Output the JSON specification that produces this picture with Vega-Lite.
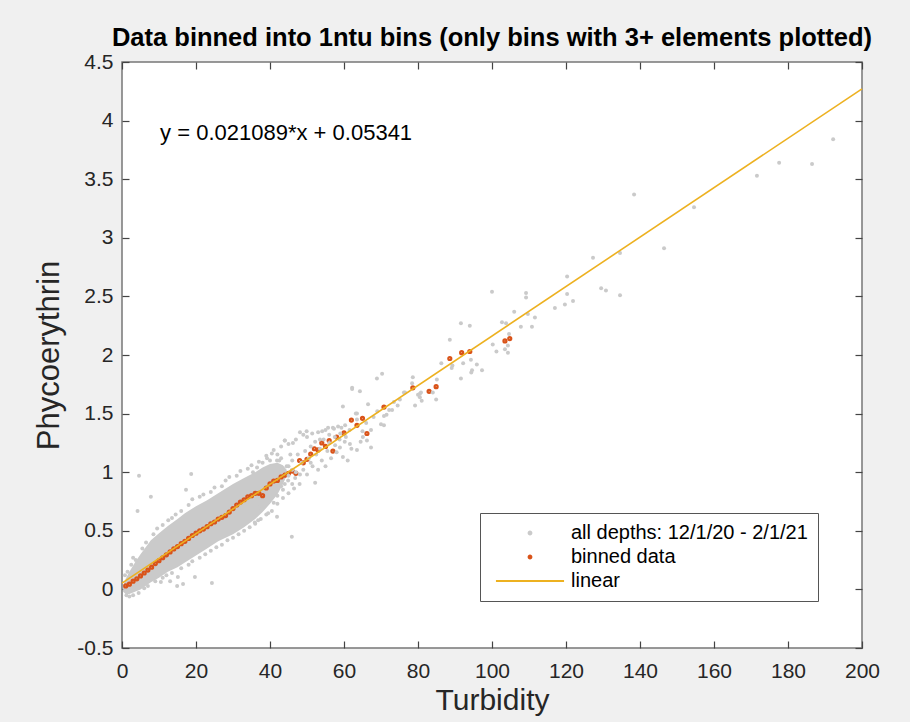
{
  "$schema": "https://vega.github.io/schema/vega-lite/v6.json",
  "width": 740,
  "height": 586,
  "autosize": {"type": "none"},
  "padding": {"left": 122, "top": 62, "right": 48, "bottom": 74},
  "background": "#f0f0f0",
  "title": {
    "text": "Data binned into 1ntu bins (only bins with 3+ elements plotted)",
    "fontSize": 25.5, "fontWeight": "bold", "font": "Liberation Sans", "color": "#000000",
    "anchor": "middle", "baseline": "alphabetic", "offset": -20
  },
  "config": {
    "font": "Liberation Sans",
    "view": {"fill": "white", "stroke": "#777777", "strokeWidth": 1.5}
  },
  "datasets": {
    "band": [
      {"x": 0.3, "lo": -0.02, "hi": 0.03},
      {"x": 1, "lo": -0.04, "hi": 0.09},
      {"x": 2, "lo": -0.04, "hi": 0.15},
      {"x": 3.5, "lo": -0.02, "hi": 0.23},
      {"x": 5, "lo": 0.0, "hi": 0.3},
      {"x": 7.8, "lo": 0.06, "hi": 0.42},
      {"x": 10, "lo": 0.1, "hi": 0.48},
      {"x": 12.4, "lo": 0.15, "hi": 0.54},
      {"x": 15, "lo": 0.19, "hi": 0.6},
      {"x": 17, "lo": 0.23, "hi": 0.65},
      {"x": 20, "lo": 0.29, "hi": 0.71},
      {"x": 23, "lo": 0.35, "hi": 0.76},
      {"x": 26, "lo": 0.41, "hi": 0.82},
      {"x": 30, "lo": 0.47, "hi": 0.9},
      {"x": 33, "lo": 0.53, "hi": 0.95},
      {"x": 36, "lo": 0.6, "hi": 1.0},
      {"x": 38, "lo": 0.66, "hi": 1.04},
      {"x": 40, "lo": 0.73, "hi": 1.07},
      {"x": 42, "lo": 0.81, "hi": 1.08},
      {"x": 43.5, "lo": 0.9, "hi": 1.06},
      {"x": 44.5, "lo": 0.97, "hi": 1.02}
    ],
    "gray": [
      {"s":"a","x":4.6,"y":0.97},{"s":"a","x":7.8,"y":0.79},{"s":"a","x":4.2,"y":0.67},{"s":"a","x":18.7,"y":0.985},
      {"s":"a","x":17.3,"y":0.85},{"s":"a","x":3.7,"y":0.25},{"s":"a","x":10.5,"y":0.063},{"s":"a","x":13,"y":0.07},
      {"s":"a","x":15.1,"y":0.106},{"s":"a","x":14.9,"y":0.03},{"s":"a","x":16.5,"y":0.046},{"s":"a","x":19.7,"y":0.106},
      {"s":"a","x":24.3,"y":0.055},{"s":"a","x":45.9,"y":0.45},{"s":"a","x":1.2,"y":-0.05},{"s":"a","x":0.8,"y":0.12},
      {"s":"a","x":1.5,"y":0.15},{"s":"a","x":2.5,"y":0.21},{"s":"a","x":3,"y":0.27},{"s":"a","x":5.5,"y":0.35},
      {"s":"a","x":6.5,"y":0.4},{"s":"a","x":8.5,"y":0.47},{"s":"a","x":9.5,"y":0.52},{"s":"a","x":11,"y":0.55},
      {"s":"a","x":12.5,"y":0.59},{"s":"a","x":13.5,"y":0.61},{"s":"a","x":14.5,"y":0.64},{"s":"a","x":16,"y":0.67},
      {"s":"a","x":18,"y":0.72},{"s":"a","x":19,"y":0.77},{"s":"a","x":21,"y":0.79},{"s":"a","x":22,"y":0.81},
      {"s":"a","x":24,"y":0.83},{"s":"a","x":25,"y":0.87},{"s":"a","x":27,"y":0.88},{"s":"a","x":28,"y":0.93},
      {"s":"a","x":29,"y":0.96},{"s":"a","x":31,"y":0.97},{"s":"a","x":32,"y":1.01},{"s":"a","x":34,"y":1.03},
      {"s":"a","x":35,"y":1.06},{"s":"a","x":37,"y":1.09},{"s":"a","x":39,"y":1.14},{"s":"a","x":41,"y":1.19},
      {"s":"a","x":43,"y":1.22},{"s":"a","x":44,"y":1.27},{"s":"a","x":45,"y":1.24},{"s":"a","x":47,"y":1.28},
      {"s":"a","x":49,"y":1.32},
      {"s":"a","x":2,"y":-0.06},{"s":"a","x":3,"y":-0.05},{"s":"a","x":4.5,"y":-0.03},{"s":"a","x":6,"y":0.01},
      {"s":"a","x":7,"y":0.03},{"s":"a","x":9,"y":0.07},{"s":"a","x":11,"y":0.1},{"s":"a","x":12,"y":0.12},
      {"s":"a","x":13.5,"y":0.14},{"s":"a","x":16,"y":0.18},{"s":"a","x":18,"y":0.21},{"s":"a","x":19,"y":0.24},
      {"s":"a","x":21,"y":0.27},{"s":"a","x":22.5,"y":0.3},{"s":"a","x":24,"y":0.33},{"s":"a","x":25.5,"y":0.36},
      {"s":"a","x":27,"y":0.38},{"s":"a","x":28.5,"y":0.42},{"s":"a","x":30,"y":0.44},{"s":"a","x":31.5,"y":0.47},
      {"s":"a","x":33,"y":0.5},{"s":"a","x":34.5,"y":0.53},{"s":"a","x":36,"y":0.56},{"s":"a","x":37.5,"y":0.6},
      {"s":"a","x":39,"y":0.64},{"s":"a","x":40.5,"y":0.67},{"s":"a","x":42,"y":0.73},{"s":"a","x":43.5,"y":0.78},
      {"s":"a","x":45,"y":0.82},{"s":"a","x":46.5,"y":0.86},{"s":"a","x":48,"y":0.9},
      {"s":"a","x":62.2,"y":1.72},{"s":"a","x":59.7,"y":1.56},{"s":"a","x":63.5,"y":1.5},{"s":"a","x":48.1,"y":1.34},
      {"s":"a","x":53,"y":1.34},{"s":"a","x":55.7,"y":1.38},{"s":"a","x":57,"y":1.38},{"s":"a","x":44,"y":1.27},
      {"s":"a","x":46.2,"y":1.25},{"s":"a","x":50,"y":1.3},{"s":"a","x":52.2,"y":1.26},{"s":"a","x":53.5,"y":1.28},
      {"s":"a","x":40.5,"y":1.16},{"s":"a","x":39.2,"y":1.12},{"s":"a","x":41.9,"y":1.1},{"s":"a","x":35.4,"y":1.0},
      {"s":"a","x":59.7,"y":1.13},{"s":"a","x":61,"y":1.1},{"s":"a","x":63.5,"y":1.19},{"s":"a","x":57.6,"y":1.23},
      {"s":"a","x":58.9,"y":1.21},{"s":"a","x":52.2,"y":0.91},{"s":"a","x":49,"y":1.02},{"s":"a","x":48.1,"y":0.98},
      {"s":"a","x":44.9,"y":0.93},{"s":"a","x":46.8,"y":0.95},{"s":"a","x":41.4,"y":0.83},{"s":"a","x":43.5,"y":0.85},
      {"s":"a","x":39.5,"y":0.79},{"s":"a","x":36.8,"y":0.7},{"s":"a","x":39.5,"y":0.65},{"s":"a","x":41.9,"y":0.62},
      {"s":"a","x":36.8,"y":0.59},{"s":"a","x":35.9,"y":0.57},
      {"s":"a","x":45,"y":1.05},{"s":"a","x":46,"y":1.1},{"s":"a","x":47,"y":1.0},{"s":"a","x":47.5,"y":1.15},
      {"s":"a","x":48.5,"y":1.08},{"s":"a","x":49.5,"y":1.18},{"s":"a","x":50.5,"y":1.12},{"s":"a","x":51,"y":1.22},
      {"s":"a","x":51.5,"y":1.05},{"s":"a","x":52.5,"y":1.15},{"s":"a","x":53.5,"y":1.2},{"s":"a","x":54,"y":1.1},
      {"s":"a","x":54.5,"y":1.28},{"s":"a","x":55.5,"y":1.18},{"s":"a","x":56,"y":1.25},{"s":"a","x":56.5,"y":1.12},
      {"s":"a","x":57.5,"y":1.3},{"s":"a","x":58,"y":1.17},{"s":"a","x":59,"y":1.33},{"s":"a","x":60.5,"y":1.3},
      {"s":"a","x":61.5,"y":1.36},{"s":"a","x":62,"y":1.2},{"s":"a","x":50,"y":0.98},{"s":"a","x":51,"y":1.08},
      {"s":"a","x":53,"y":1.02},{"s":"a","x":55,"y":1.05},{"s":"a","x":45.5,"y":1.15},{"s":"a","x":44.5,"y":1.05},
      {"s":"a","x":43,"y":1.0},{"s":"a","x":42.5,"y":1.1},{"s":"a","x":46,"y":0.9},
      {"s":"a","x":42,"y":1.15},{"s":"a","x":43,"y":1.12},{"s":"a","x":41,"y":1.05},{"s":"a","x":40,"y":1.1},
      {"s":"a","x":44,"y":0.9},{"s":"a","x":43,"y":0.88},{"s":"a","x":42,"y":0.8},{"s":"a","x":41,"y":0.74},
      {"s":"a","x":45,"y":0.97},{"s":"a","x":46,"y":1.02},{"s":"a","x":38,"y":1.08},{"s":"a","x":36.5,"y":1.04},
      {"s":"a","x":68.9,"y":1.8},{"s":"a","x":70.3,"y":1.84},{"s":"a","x":62.2,"y":1.71},{"s":"a","x":64.3,"y":1.69},
      {"s":"a","x":76.5,"y":1.68},{"s":"a","x":80.5,"y":1.67},{"s":"a","x":80.5,"y":1.64},{"s":"a","x":75.1,"y":1.62},
      {"s":"a","x":72.2,"y":1.53},{"s":"a","x":73,"y":1.53},{"s":"a","x":70.8,"y":1.48},{"s":"a","x":71.5,"y":1.49},
      {"s":"a","x":70,"y":1.41},{"s":"a","x":70.8,"y":1.4},{"s":"a","x":67.3,"y":1.36},{"s":"a","x":63.2,"y":1.5},
      {"s":"a","x":63.5,"y":1.45},{"s":"a","x":65.1,"y":1.3},{"s":"a","x":66.2,"y":1.27},{"s":"a","x":67.3,"y":1.21},
      {"s":"a","x":58.4,"y":1.39},{"s":"a","x":59.3,"y":1.38},{"s":"a","x":60.3,"y":1.4},{"s":"a","x":57.3,"y":1.37},
      {"s":"a","x":54.1,"y":1.35},{"s":"a","x":55,"y":1.36},{"s":"a","x":56,"y":1.32},{"s":"a","x":51.4,"y":1.33},
      {"s":"a","x":49.9,"y":1.35},{"s":"a","x":58.8,"y":1.28},{"s":"a","x":60.2,"y":1.26},{"s":"a","x":61.6,"y":1.24},
      {"s":"a","x":64.5,"y":1.26},{"s":"a","x":65,"y":1.35},{"s":"a","x":66,"y":1.42},{"s":"a","x":68,"y":1.47},
      {"s":"a","x":69,"y":1.52},{"s":"a","x":66.5,"y":1.58},{"s":"a","x":73.5,"y":1.6},{"s":"a","x":74.5,"y":1.57},
      {"s":"a","x":78.6,"y":1.81},{"s":"a","x":78.4,"y":1.76},{"s":"a","x":76.2,"y":1.68},{"s":"a","x":85.1,"y":1.79},
      {"s":"a","x":84,"y":1.68},{"s":"a","x":84.9,"y":1.62},{"s":"a","x":80.8,"y":1.68},{"s":"a","x":81,"y":1.61},
      {"s":"a","x":79.2,"y":1.57},{"s":"a","x":80,"y":1.66},{"s":"a","x":86.3,"y":1.93},{"s":"a","x":89.1,"y":1.89},
      {"s":"a","x":89.3,"y":1.91},{"s":"a","x":92.2,"y":1.93},{"s":"a","x":94.3,"y":1.96},{"s":"a","x":95.9,"y":1.92},
      {"s":"a","x":94.6,"y":1.87},{"s":"a","x":94.4,"y":1.85},{"s":"a","x":97.3,"y":1.87},{"s":"a","x":91.6,"y":1.8},
      {"s":"a","x":88.6,"y":2.13},{"s":"a","x":91.6,"y":2.27},{"s":"a","x":94,"y":2.25},{"s":"a","x":100.2,"y":2.09},
      {"s":"a","x":101.2,"y":2.03},{"s":"a","x":103.5,"y":2.05},{"s":"a","x":104.3,"y":2.02},{"s":"a","x":104.3,"y":2.08},
      {"s":"a","x":102.7,"y":2.28},{"s":"a","x":103.8,"y":2.27},{"s":"a","x":104.6,"y":2.18},{"s":"a","x":106,"y":2.37},
      {"s":"a","x":109.7,"y":2.35},{"s":"a","x":111.6,"y":2.32},{"s":"a","x":107.8,"y":2.24},{"s":"a","x":110.8,"y":2.24},
      {"s":"a","x":100,"y":2.54},{"s":"a","x":109.2,"y":2.53},{"s":"a","x":109.2,"y":2.49},{"s":"a","x":117,"y":2.4},
      {"s":"a","x":120.3,"y":2.67},{"s":"a","x":120.3,"y":2.52},{"s":"a","x":119.7,"y":2.43},{"s":"a","x":121.9,"y":2.46},
      {"s":"a","x":129.5,"y":2.57},{"s":"a","x":130.8,"y":2.55},{"s":"a","x":134.6,"y":2.51},{"s":"a","x":127.3,"y":2.83},
      {"s":"a","x":134.6,"y":2.87},{"s":"a","x":146.5,"y":2.91},{"s":"a","x":138.4,"y":3.37},{"s":"a","x":154.6,"y":3.26},
      {"s":"a","x":171.6,"y":3.53},{"s":"a","x":177.6,"y":3.64},{"s":"a","x":186.5,"y":3.63},{"s":"a","x":192.2,"y":3.84}
    ],
    "bins": [
      {"s":"b","x":1,"y":0.03},{"s":"b","x":2,"y":0.045},{"s":"b","x":3,"y":0.07},{"s":"b","x":4,"y":0.09},
      {"s":"b","x":5,"y":0.115},{"s":"b","x":6,"y":0.14},{"s":"b","x":7,"y":0.165},{"s":"b","x":8,"y":0.19},
      {"s":"b","x":9,"y":0.22},{"s":"b","x":10,"y":0.245},{"s":"b","x":11,"y":0.27},{"s":"b","x":12,"y":0.295},
      {"s":"b","x":13,"y":0.32},{"s":"b","x":14,"y":0.345},{"s":"b","x":15,"y":0.365},{"s":"b","x":16,"y":0.39},
      {"s":"b","x":17,"y":0.41},{"s":"b","x":18,"y":0.435},{"s":"b","x":19,"y":0.46},{"s":"b","x":20,"y":0.48},
      {"s":"b","x":21,"y":0.5},{"s":"b","x":22,"y":0.515},{"s":"b","x":23,"y":0.535},{"s":"b","x":24,"y":0.56},
      {"s":"b","x":25,"y":0.575},{"s":"b","x":26,"y":0.6},{"s":"b","x":27,"y":0.615},{"s":"b","x":28,"y":0.63},
      {"s":"b","x":29,"y":0.66},{"s":"b","x":30,"y":0.69},{"s":"b","x":31,"y":0.72},{"s":"b","x":32,"y":0.745},
      {"s":"b","x":33,"y":0.765},{"s":"b","x":34,"y":0.79},{"s":"b","x":35,"y":0.8},{"s":"b","x":36,"y":0.82},
      {"s":"b","x":37,"y":0.82},{"s":"b","x":38,"y":0.8},{"s":"b","x":39,"y":0.865},{"s":"b","x":40,"y":0.9},
      {"s":"b","x":41,"y":0.925},{"s":"b","x":42,"y":0.93},{"s":"b","x":43,"y":0.96},{"s":"b","x":44,"y":0.975},
      {"s":"b","x":45,"y":0.99},{"s":"b","x":46,"y":1.01},{"s":"b","x":47,"y":0.99},{"s":"b","x":48,"y":1.1},
      {"s":"b","x":49,"y":1.08},{"s":"b","x":50,"y":1.11},{"s":"b","x":51,"y":1.155},{"s":"b","x":52,"y":1.2},
      {"s":"b","x":53,"y":1.19},{"s":"b","x":54,"y":1.25},{"s":"b","x":55,"y":1.22},{"s":"b","x":56,"y":1.27},
      {"s":"b","x":57,"y":1.18},{"s":"b","x":58,"y":1.3},{"s":"b","x":60,"y":1.335},{"s":"b","x":62,"y":1.445},
      {"s":"b","x":63.5,"y":1.4},{"s":"b","x":65,"y":1.46},{"s":"b","x":66.2,"y":1.33},{"s":"b","x":70.8,"y":1.556},
      {"s":"b","x":78.6,"y":1.72},{"s":"b","x":83,"y":1.69},{"s":"b","x":84.9,"y":1.73},{"s":"b","x":88.6,"y":1.97},
      {"s":"b","x":91.8,"y":2.02},{"s":"b","x":94,"y":2.03},{"s":"b","x":103.5,"y":2.12},{"s":"b","x":104.8,"y":2.14}
    ],
    "fit": [
      {"s":"l","x":0,"y":0.05341},
      {"s":"l","x":200,"y":4.27121}
    ],
    "note": [
      {"label": "y = 0.021089*x + 0.05341"}
    ]
  },
  "layer": [
    {
      "data": {"name": "band"},
      "mark": {"type": "area", "color": "#cacaca"},
      "encoding": {
        "x": {"field": "x", "type": "quantitative",
          "scale": {"domain": [0, 200], "nice": false, "zero": false},
          "axis": {"orient": "bottom", "values": [0,20,40,60,80,100,120,140,160,180,200],
            "title": "Turbidity", "titleFontSize": 30, "titleFontWeight": "normal", "titleColor": "#262626", "titlePadding": 4,
            "labelFontSize": 21, "labelColor": "#262626", "labelPadding": 19, "labelFlush": false, "labelOverlap": false,
            "labelExpr": "'' + datum.value",
            "tickSize": -7, "tickColor": "#444444", "tickWidth": 1.2, "domain": false, "grid": false}},
        "y": {"field": "lo", "type": "quantitative",
          "scale": {"domain": [-0.5, 4.5], "nice": false, "zero": false},
          "axis": {"orient": "left", "values": [-0.5,0,0.5,1,1.5,2,2.5,3,3.5,4,4.5],
            "title": "Phycoerythrin", "titleFontSize": 31, "titleFontWeight": "normal", "titleColor": "#262626", "titlePadding": 11,
            "labelFontSize": 21, "labelColor": "#262626", "labelPadding": 16, "labelFlush": false, "labelOverlap": false,
            "labelExpr": "'' + datum.value",
            "tickSize": -7, "tickColor": "#444444", "tickWidth": 1.2, "domain": false, "grid": false}},
        "y2": {"field": "hi"}
      }
    },
    {
      "data": {"name": "bins"},
      "mark": {"type": "point", "filled": false, "opacity": 1, "size": 9, "strokeWidth": 2.2},
      "encoding": {
        "x": {"field": "x", "type": "quantitative", "axis": null},
        "y": {"field": "y", "type": "quantitative", "axis": null},
        "color": {"field": "s", "type": "nominal",
          "scale": {"domain": ["a", "b", "l"], "range": ["#cacaca", "#D95319", "#EDB120"]},
          "legend": {
            "title": null, "orient": "none", "legendX": 358, "legendY": 451, "direction": "vertical",
            "padding": 10, "rowPadding": 4, "fillColor": "white", "strokeColor": "#555555",
            "labelFont": "Liberation Sans", "labelFontSize": 20, "labelColor": "#000000", "labelLimit": 400,
            "symbolSize": 9, "symbolStrokeWidth": 1.8, "symbolOffset": 30, "labelOffset": 31,
            "labelExpr": "datum.value === 'a' ? 'all depths: 12/1/20 - 2/1/21' : datum.value === 'b' ? 'binned data' : '\u2003linear'"
          }},
        "shape": {"field": "s", "type": "nominal",
          "scale": {"domain": ["a", "b", "l"], "range": ["circle", "circle", "M-22.7,0H22.7"]},
          "legend": {
            "title": null, "orient": "none", "legendX": 358, "legendY": 451, "direction": "vertical",
            "padding": 10, "rowPadding": 4, "fillColor": "white", "strokeColor": "#555555",
            "labelFont": "Liberation Sans", "labelFontSize": 20, "labelColor": "#000000", "labelLimit": 400,
            "symbolSize": 9, "symbolStrokeWidth": 1.8, "symbolOffset": 30, "labelOffset": 31,
            "labelExpr": "datum.value === 'a' ? 'all depths: 12/1/20 - 2/1/21' : datum.value === 'b' ? 'binned data' : '\u2003linear'"
          }}
      }
    },
    {
      "data": {"name": "gray"},
      "mark": {"type": "point", "filled": true, "opacity": 1, "size": 16},
      "encoding": {
        "x": {"field": "x", "type": "quantitative", "axis": null},
        "y": {"field": "y", "type": "quantitative", "axis": null},
        "color": {"field": "s", "type": "nominal", "legend": null}
      }
    },
    {
      "data": {"name": "fit"},
      "mark": {"type": "line", "strokeWidth": 1.6},
      "encoding": {
        "x": {"field": "x", "type": "quantitative",
          "axis": {"orient": "top", "values": [0,20,40,60,80,100,120,140,160,180,200], "labels": false, "title": null,
            "minExtent": 0, "maxExtent": 0,
            "tickSize": -7, "tickColor": "#444444", "tickWidth": 1.2, "domain": false, "grid": false}},
        "y": {"field": "y", "type": "quantitative",
          "axis": {"orient": "right", "values": [-0.5,0,0.5,1,1.5,2,2.5,3,3.5,4,4.5], "labels": false, "title": null,
            "minExtent": 0, "maxExtent": 0,
            "tickSize": -7, "tickColor": "#444444", "tickWidth": 1.2, "domain": false, "grid": false}},
        "color": {"field": "s", "type": "nominal", "legend": null}
      }
    },
    {
      "data": {"name": "note"},
      "mark": {"type": "text", "align": "left", "baseline": "middle", "fontSize": 22, "font": "Liberation Sans", "color": "#000000"},
      "encoding": {
        "x": {"datum": 10.3, "type": "quantitative", "axis": null},
        "y": {"datum": 3.89, "type": "quantitative", "axis": null},
        "text": {"field": "label", "type": "nominal"}
      }
    }
  ],
  "resolve": {"axis": {"x": "independent", "y": "independent"}}
}
